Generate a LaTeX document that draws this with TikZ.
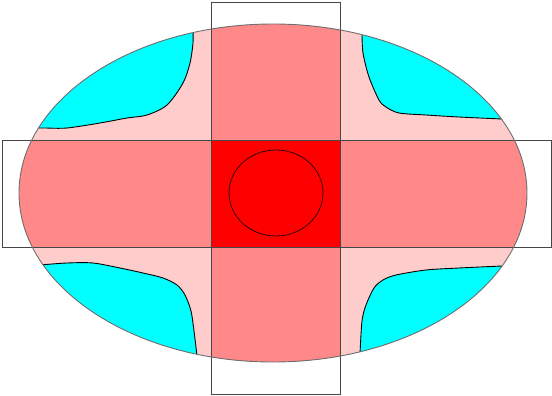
\documentclass[tikz,border=0pt]{standalone}
\usepackage{xcolor}
\usetikzlibrary{calc}
\definecolor{pinkbg}{RGB}{255,204,204}
\definecolor{salmon}{RGB}{255,136,136}
\definecolor{lobecyan}{RGB}{0,255,255}
\definecolor{rimgray}{RGB}{110,110,110}
\definecolor{framegray}{RGB}{70,70,70}
\begin{document}
\begin{tikzpicture}[x=1pt, y=-1pt,
  arm/.style={fill=salmon},
  core/.style={fill=red},
  lobe/.style={fill=lobecyan},
  lobeedge/.style={draw=black, line width=0.9pt},
  rim/.style={draw=rimgray, line width=0.9pt},
  frame/.style={draw=framegray, line width=0.8pt},
  ring/.style={draw=black!80!red, line width=0.8pt},
]
\useasboundingbox (0,0) rectangle (552,396);
\fill[pinkbg] (273,193) ellipse [x radius=254, y radius=169];
\begin{scope}
  \clip (273,193) ellipse [x radius=254, y radius=169];
  \fill[arm] (211,0) rectangle (340,396);
  \fill[arm] (0,140) rectangle (552,247);
  \fill[core] (211,140) rectangle (340,247);
  % four cyan corners
  \fill[lobe] (193,0) -- plot[smooth] coordinates {(193,30) (193,43) (190,63) (183,83) (167,105) (147,115) (127,118) (100,123) (67,128) (45,128) (38,128)} -- (0,128) -- (0,0) -- cycle;
  \fill[lobe] (362,0) -- plot[smooth] coordinates {(362,33) (363,53) (369,77) (379,100) (386,107) (399,113) (426,115) (459,117) (502,119)} -- (552,119) -- (552,0) -- cycle;
  \fill[lobe] (0,265) -- plot[smooth] coordinates {(40,265) (67,263) (93,263) (120,268) (143,273) (163,278) (177,285) (185,295) (191,311) (194,331) (197,356)} -- (197,396) -- (0,396) -- cycle;
  \fill[lobe] (552,266) -- plot[smooth] coordinates {(502,266) (459,268) (426,270) (396,275) (383,280) (374,288) (366,305) (362,321) (360,354)} -- (360,396) -- (552,396) -- cycle;
  \draw[lobeedge] plot[smooth] coordinates {(193,30) (193,43) (190,63) (183,83) (167,105) (147,115) (127,118) (100,123) (67,128) (45,128) (38,128)};
  \draw[lobeedge] plot[smooth] coordinates {(362,33) (363,53) (369,77) (379,100) (386,107) (399,113) (426,115) (459,117) (502,119)};
  \draw[lobeedge] plot[smooth] coordinates {(40,265) (67,263) (93,263) (120,268) (143,273) (163,278) (177,285) (185,295) (191,311) (194,331) (197,356)};
  \draw[lobeedge] plot[smooth] coordinates {(502,266) (459,268) (426,270) (396,275) (383,280) (374,288) (366,305) (362,321) (360,354)};
\end{scope}
\draw[frame] (211,2) rectangle (340,394);
\draw[frame] (2,140) rectangle (551,247);
\draw[ring] (276,193) ellipse [x radius=47, y radius=43];
\draw[rim] (273,193) ellipse [x radius=254, y radius=169];
\end{tikzpicture}
\end{document}
